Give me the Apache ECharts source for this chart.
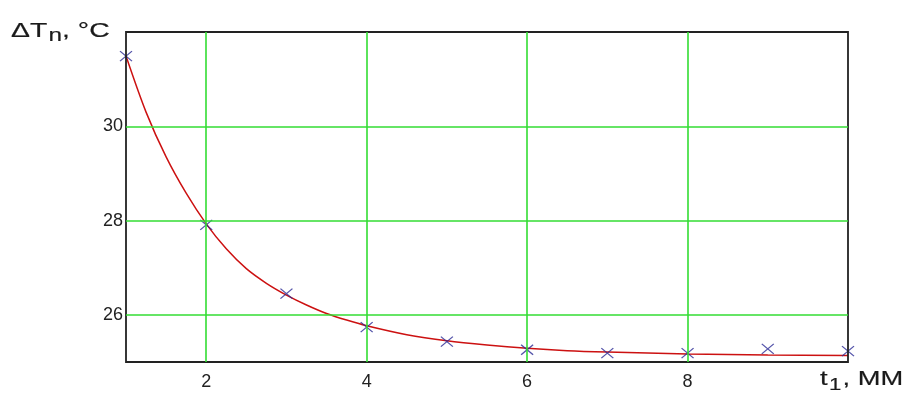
<!DOCTYPE html>
<html><head><meta charset="utf-8">
<script src="https://cdn.jsdelivr.net/npm/echarts@6/dist/echarts.min.js"></script>
<style>html,body{margin:0;padding:0;background:#fff}#c{width:909px;height:411px}</style>
</head><body><div id="c"></div>
<script>
// measured points (crosses)
const pointX = [1, 2, 3, 4, 5, 6, 7, 8, 9, 10];
const pointY = [31.49, 27.91, 26.45, 25.74, 25.43, 25.26, 25.19, 25.19, 25.28, 25.23];
// fitted curve
const curveX = [1.0, 1.25, 1.5, 1.75, 2.0, 2.25, 2.5, 2.75, 3.0, 3.25, 3.5, 3.75, 4.0, 4.5, 5.0, 5.5, 6.0, 6.5, 7.0, 7.5, 8.0, 9.0, 10.0];
const curveY = [31.49, 30.30, 29.35, 28.58, 27.93, 27.40, 26.98, 26.67, 26.42, 26.21, 26.03, 25.89, 25.77, 25.58, 25.45, 25.36, 25.29, 25.24, 25.21, 25.19, 25.17, 25.15, 25.14];
// grid lines / tick labels
const xTicks = [2, 4, 6, 8];
const yTicks = [26, 28, 30];

const chart = echarts.init(document.getElementById('c'), null, {renderer: 'canvas'});
const green = '#33dd33';
const labelFont = {fontFamily: 'Liberation Sans', fontSize: 18, color: '#222'};
const richTitle = {
  a: {fontFamily: 'Liberation Sans', fontSize: 21, fill: '#1a1a1a', stroke: '#1a1a1a', lineWidth: 0.2},
  s: {fontFamily: 'Liberation Sans', fontSize: 18, fill: '#1a1a1a', stroke: '#1a1a1a', lineWidth: 0.2, padding: [10, 0, 0, 1]}
};
chart.setOption({
  animation: false,
  grid: {left: 126, right: 61, top: 32, bottom: 49, show: true, borderColor: '#222', borderWidth: 1.8, z: 5},
  xAxis: {
    type: 'value', min: 1, max: 10, interval: 1,
    axisLine: {show: false}, axisTick: {show: false}, splitLine: {show: false},
    axisLabel: Object.assign({margin: 11, formatter: v => xTicks.includes(v) ? String(v) : ''}, labelFont)
  },
  yAxis: {
    type: 'value', min: 25, max: 32, interval: 1,
    axisLine: {show: false}, axisTick: {show: false}, splitLine: {show: false},
    axisLabel: Object.assign({margin: 3, formatter: v => yTicks.includes(v) ? String(v) : ''}, labelFont)
  },
  graphic: [
    {type: 'text', x: 11, y: 17, scaleX: 1.35, style: {
      text: '{a|ΔT}{s|n}{a|, °C}', rich: richTitle
    }},
    {type: 'text', x: 820, y: 365, scaleX: 1.3, style: {
      text: '{a|t}{s|1}{a|, MM}',
      rich: {a: richTitle.a, s: {fontFamily: 'Liberation Sans', fontSize: 17, fill: '#1a1a1a', stroke: '#1a1a1a', lineWidth: 0.2, padding: [12, 1, 0, 1]}}
    }}
  ],
  series: [
    {
      type: 'line', data: [], silent: true,
      markLine: {
        silent: true, symbol: ['none', 'none'], label: {show: false},
        lineStyle: {color: green, width: 1.6, type: 'solid'},
        data: xTicks.map(v => ({xAxis: v})).concat(yTicks.map(v => ({yAxis: v})))
      }
    },
    {
      type: 'line', smooth: 0.3, showSymbol: false, symbol: 'none', z: 3,
      lineStyle: {color: '#cc1111', width: 1.5},
      data: curveX.map((x, i) => [x, curveY[i]])
    },
    {
      type: 'scatter', z: 4, clip: false,
      symbol: 'path://M0,0L10,10M10,0L0,10', symbolSize: [12, 10],
      itemStyle: {color: 'none', borderColor: '#2b2b95', borderWidth: 1.2},
      data: pointX.map((x, i) => [x, pointY[i]])
    }
  ]
});
</script></body></html>
